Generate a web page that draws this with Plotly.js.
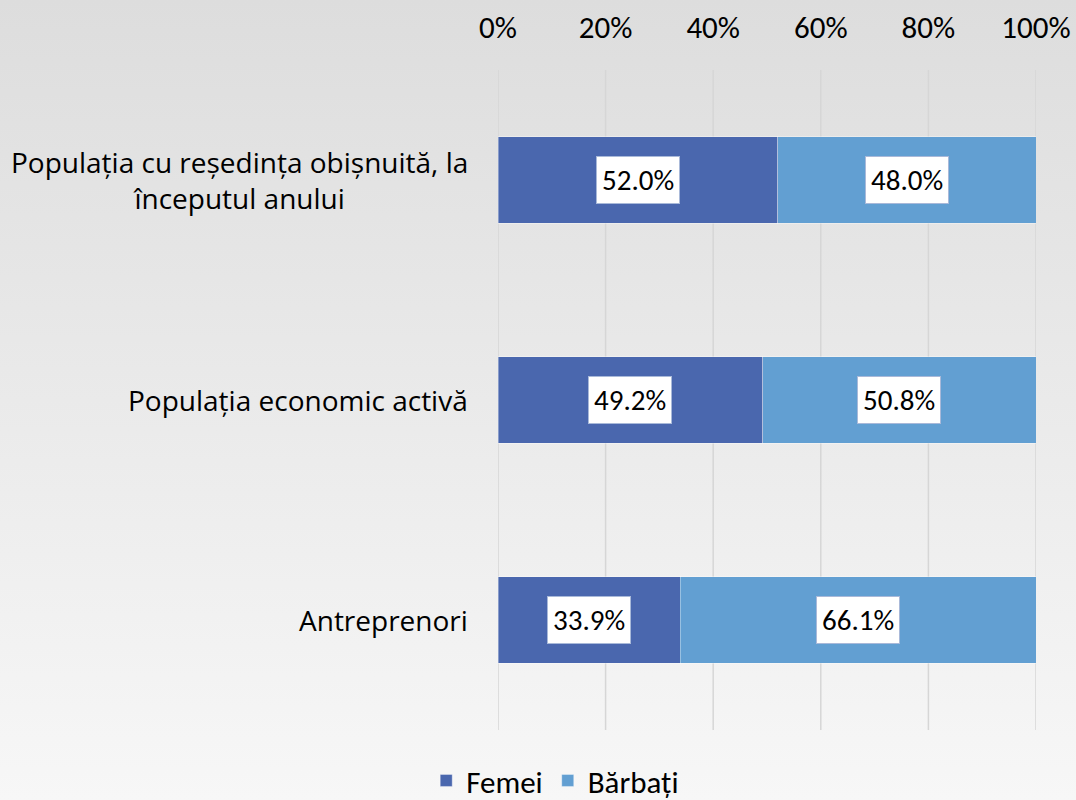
<!DOCTYPE html>
<html><head><meta charset="utf-8">
<script src="https://cdn.plot.ly/plotly-3.0.1.min.js"></script>
<style>
html,body{margin:0;padding:0;}
#chart{width:1076px;height:800px;background:linear-gradient(to bottom,#dddddd 0%,#f7f7f7 100%);}
</style></head>
<body><div id="chart"></div>
<script>
const categories = ["Populația cu reședința obișnuită, la<br>începutul anului", "Populația economic activă", "Antreprenori"];
const femei = [52.0, 49.2, 33.9];
const barbati = [48.0, 50.8, 66.1];
const seriesNames = ["Femei", "Bărbați"];
const tickVals = [0, 20, 40, 60, 80, 100];
const tickText = ["0%", "20%", "40%", "60%", "80%", "100%"];

const FONT = "Carlito, 'Liberation Sans Narrow', 'Open Sans', sans-serif";
const CAT_FONT = "'Open Sans', 'Noto Sans', sans-serif";
const colors = ["#4a67ae", "#629fd2"];
const yIdx = categories.map((c, i) => i);

const traces = [femei, barbati].map((vals, k) => ({
  type: 'bar', orientation: 'h', name: seriesNames[k],
  x: vals, y: yIdx, width: 0.395,
  marker: {color: colors[k], line: {color: 'rgba(255,255,255,0.35)', width: 1}},
  hoverinfo: 'skip'
}));

const annotations = [];
yIdx.forEach(i => {
  annotations.push({x: femei[i] / 2, y: i, xref: 'x', yref: 'y', text: femei[i].toFixed(1) + '%',
    showarrow: false, bgcolor: '#ffffff', bordercolor: '#a9b9d9', borderwidth: 1, borderpad: 5,
    font: {family: FONT, size: 29, color: '#000'}});
  annotations.push({x: femei[i] + barbati[i] / 2, y: i, xref: 'x', yref: 'y', text: barbati[i].toFixed(1) + '%',
    showarrow: false, bgcolor: '#ffffff', bordercolor: '#a9b9d9', borderwidth: 1, borderpad: 5,
    font: {family: FONT, size: 29, color: '#000'}});
  annotations.push({x: 0, y: i, xref: 'paper', yref: 'y', text: categories[i], xanchor: 'right',
    xshift: -28, showarrow: false, align: 'center',
    font: {family: CAT_FONT, size: 28, color: '#000'}});
});

const shapes = tickVals.map(v => ({type: 'line', xref: 'x', yref: 'paper', x0: v, x1: v, y0: 0, y1: 1,
  layer: 'below', line: {color: '#d6d6d6', width: 1.5}}));

const layout = {
  width: 1076, height: 800,
  paper_bgcolor: 'rgba(0,0,0,0)', plot_bgcolor: 'rgba(0,0,0,0)',
  margin: {l: 498, r: 40, t: 70, b: 70},
  barmode: 'stack', bargap: 0,
  font: {family: FONT, color: '#000'},
  xaxis: {side: 'top', range: [0, 100], tickvals: tickVals, ticktext: tickText,
    showgrid: false, zeroline: false, showline: false,
    ticks: '', ticklabelstandoff: 25, tickfont: {family: FONT, size: 31, color: '#000'}, fixedrange: true},
  yaxis: {range: [2.5, -0.5], showticklabels: false, showgrid: false, zeroline: false,
    showline: false, ticks: '', fixedrange: true},
  showlegend: true,
  legend: {orientation: 'h', traceorder: 'normal', xref: 'container', yref: 'container', x: 0.516, y: 0.024,
    xanchor: 'center', yanchor: 'middle', font: {family: FONT, size: 31, color: '#000'},
    bgcolor: 'rgba(0,0,0,0)', itemwidth: 30},
  shapes: shapes,
  annotations: annotations
};

Plotly.newPlot('chart', traces, layout, {displayModeBar: false, staticPlot: true});
</script></body></html>
